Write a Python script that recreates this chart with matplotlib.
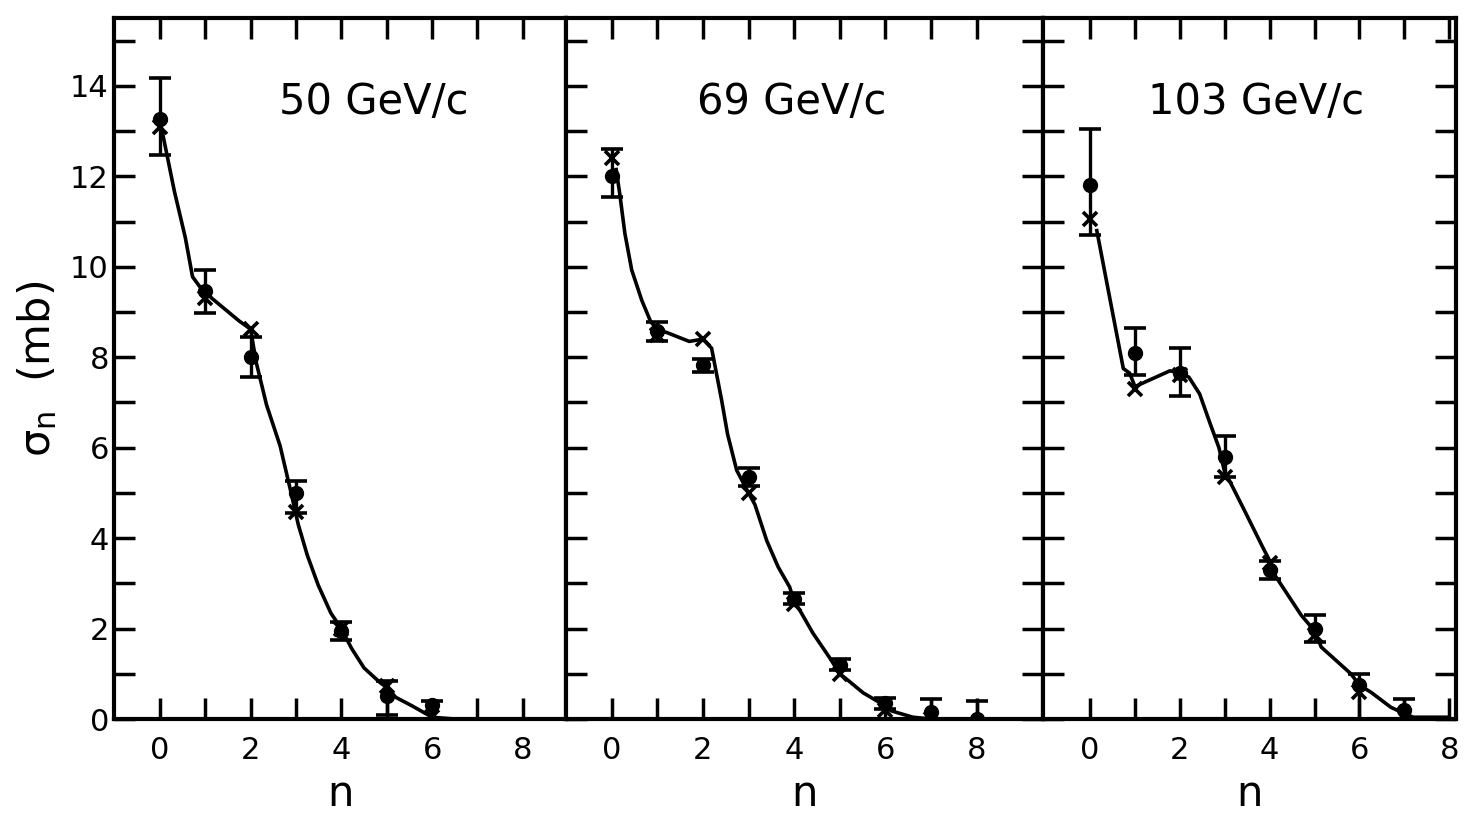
import numpy as np
import matplotlib
matplotlib.use('Agg')
import matplotlib.pyplot as plt
from matplotlib.ticker import FixedLocator

plt.rcParams['font.family'] = ['DejaVu Sans']
plt.rcParams['mathtext.fontset'] = 'dejavusans'
plt.rcParams['mathtext.default'] = 'regular'

# beam momenta of the three panels
titles = ['50 GeV/c', '69 GeV/c', '103 GeV/c']

# measured sigma_n (dots with error bars)
n_50 = [0, 1, 2, 3, 4, 5, 6]
sig_50 = [13.27, 9.47, 8.0, 5.0, 1.95, 0.5, 0.3]
err_lo_50 = [0.8, 0.49, 0.44, 0.45, 0.2, 0.4, 0.3]
err_hi_50 = [0.91, 0.46, 0.45, 0.27, 0.2, 0.35, 0.1]

n_69 = [0, 1, 2, 3, 4, 5, 6, 7, 8]
sig_69 = [12.0, 8.57, 7.82, 5.35, 2.66, 1.2, 0.35, 0.15, 0.0]
err_lo_69 = [0.45, 0.2, 0.15, 0.2, 0.12, 0.12, 0.12, 0.15, 0.0]
err_hi_69 = [0.6, 0.2, 0.15, 0.2, 0.12, 0.12, 0.12, 0.3, 0.4]

n_103 = [0, 1, 2, 3, 4, 5, 6, 7]
sig_103 = [11.8, 8.1, 7.65, 5.8, 3.3, 2.0, 0.75, 0.2]
err_lo_103 = [1.1, 0.5, 0.5, 0.45, 0.2, 0.3, 0.75, 0.2]
err_hi_103 = [1.25, 0.55, 0.55, 0.45, 0.2, 0.3, 0.25, 0.25]

# calculated values (x markers)
xn_50 = [0, 1, 2, 3, 4, 5, 6]
xs_50 = [13.1, 9.3, 8.62, 4.57, 2.0, 0.73, 0.05]
xn_69 = [0, 1, 2, 3, 4, 5, 6, 7]
xs_69 = [12.4, 8.5, 8.4, 5.0, 2.55, 1.0, 0.2, 0.0]
xn_103 = [0, 1, 2, 3, 4, 5, 6, 7]
xs_103 = [11.05, 7.3, 7.6, 5.35, 3.45, 1.85, 0.6, 0.1]

# hand drawn curves
cn_50 = [0.04, 0.32, 0.56, 0.72, 0.88, 1.0, 1.15, 1.75, 2.0, 2.12, 2.35, 2.65, 2.89,
         3.05, 3.25, 3.49, 3.77, 4.0, 4.22, 4.5, 4.86, 5.0, 5.2, 5.56, 6.0, 6.5]
cs_50 = [13.05, 11.67, 10.65, 9.78, 9.56, 9.45, 9.3, 8.8, 8.62, 7.9, 6.95, 6.04, 5.01,
         4.3, 3.62, 2.96, 2.34, 2.0, 1.57, 1.13, 0.8, 0.7, 0.48, 0.29, 0.04, 0.0]
cn_69 = [0.1, 0.18, 0.29, 0.44, 0.66, 0.85, 1.0, 1.2, 1.7, 2.0, 2.19, 2.41, 2.54, 2.74,
         3.0, 3.14, 3.4, 3.65, 3.9, 4.0, 4.12, 4.41, 4.78, 5.0, 5.15, 5.51, 5.88, 6.0,
         6.13, 6.6, 7.0, 7.7]
cs_69 = [12.15, 11.6, 10.74, 9.93, 9.26, 8.8, 8.6, 8.55, 8.35, 8.4, 8.2, 7.05, 6.3, 5.5,
         5.0, 4.74, 3.94, 3.36, 2.92, 2.6, 2.41, 1.9, 1.35, 1.0, 0.88, 0.58, 0.36, 0.25,
         0.18, 0.04, 0.0, 0.0]
cn_103 = [0.15, 0.74, 0.88, 1.0, 1.22, 1.78, 2.0, 2.2, 2.44, 2.65, 2.87, 3.0, 3.11, 3.45,
          3.82, 4.0, 4.11, 4.7, 5.0, 5.15, 5.81, 6.0, 6.26, 6.7, 7.0, 7.2, 8.0]
cs_103 = [10.8, 7.75, 7.65, 7.35, 7.45, 7.7, 7.65, 7.56, 7.19, 6.6, 6.0, 5.45, 5.26, 4.59,
          3.85, 3.5, 3.19, 2.3, 1.95, 1.59, 1.0, 0.75, 0.59, 0.26, 0.12, 0.04, 0.04]

panels = [
    (n_50, sig_50, err_lo_50, err_hi_50, xn_50, xs_50, cn_50, cs_50),
    (n_69, sig_69, err_lo_69, err_hi_69, xn_69, xs_69, cn_69, cs_69),
    (n_103, sig_103, err_lo_103, err_hi_103, xn_103, xs_103, cn_103, cs_103),
]

# axes boxes in figure fraction, x ranges per panel
boxes = [(0.0782, 0.3084), (0.3866, 0.3258), (0.7124, 0.2821)]
xlims = [(-1.0, 8.95), (-1.0, 9.45), (-1.05, 8.15)]
title_pos = [(4.72, 13.65), (3.95, 13.65), (3.7, 13.65)]

fig = plt.figure(figsize=(14.64, 8.21), dpi=100)

for i, p in enumerate(panels):
    n, s, elo, ehi, xn, xs, cn, cs = p
    left, width = boxes[i]
    ax = fig.add_axes([left, 0.1242, width, 0.8538])

    ax.plot(cn, cs, color='black', lw=2.6, zorder=2)
    ax.errorbar(n, s, yerr=[elo, ehi], fmt='o', color='black', ms=10,
                elinewidth=2.4, capsize=8, capthick=2.6, zorder=3)
    ax.plot(xn, xs, 'x', color='black', ms=10, mew=2.6, zorder=4)

    ax.set_xlim(*xlims[i])
    ax.set_ylim(0, 15.5)
    ax.xaxis.set_major_locator(FixedLocator([0, 2, 4, 6, 8]))
    ax.xaxis.set_minor_locator(FixedLocator([1, 3, 5, 7]))
    ax.yaxis.set_major_locator(FixedLocator([0, 2, 4, 6, 8, 10, 12, 14]))
    ax.yaxis.set_minor_locator(FixedLocator([1, 3, 5, 7, 9, 11, 13, 15]))

    ax.tick_params(which='both', direction='in', length=15, width=2.5,
                   top=True, bottom=True, left=True, right=(i > 0),
                   labelsize=22)
    ax.tick_params(axis='x', which='both', pad=12)
    ax.tick_params(axis='y', which='both', pad=4)
    if i > 0:
        ax.tick_params(labelleft=False)
    for sp in ax.spines.values():
        sp.set_linewidth(3)

    ax.set_xlabel('n', fontsize=30, labelpad=6)
    ax.text(title_pos[i][0], title_pos[i][1], titles[i], fontsize=30,
            ha='center', va='center')

    if i == 0:
        ax.set_ylabel(r'$\sigma_{n}$  (mb)', fontsize=31, labelpad=8)

fig.savefig('out.png', dpi=100, facecolor='white')
